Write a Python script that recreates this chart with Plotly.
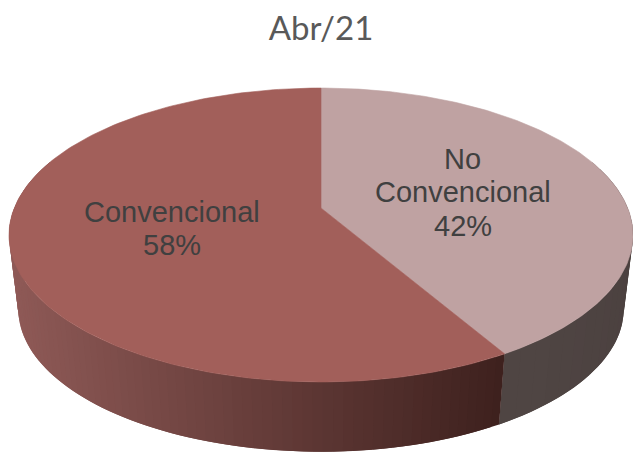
import numpy as np
import plotly.graph_objects as go

# data
title = "Abr/21"
categories = ["No<br>Convencional", "Convencional"]
values = [41.6, 58.4]  # read from the slice boundary, labels show 42 / 58

# disc geometry in page pixels
CX, CY = 321, 208
A, B, PERSP = 306.7, 142, 0.1837
DEPTH, BOTTOM_SCALE = 75, 0.97

TOP_COLORS = ["#BFA2A2", "#A25F5A"]
SIDE_LEFT = np.array([143, 90, 87])
SIDE_RIGHT = np.array([62, 33, 30])
SIDE_GREY_A = np.array([80, 70, 68])
SIDE_GREY_B = np.array([72, 61, 60])
TEXT_COLOR = "#404040"


def project(theta, r=1.0, bottom=False):
    # theta in degrees, clockwise from the far point of the disc
    t = np.radians(theta)
    u, v = r * np.sin(t), -r * np.cos(t)
    w = 1 - PERSP * v
    s, dy = (BOTTOM_SCALE, DEPTH) if bottom else (1.0, 0)
    return CX + s * A * u / w, CY + dy + s * B * v / w


def side_color(theta):
    x = project(theta)[0]
    if theta < boundary:
        k = np.clip((theta - 70) / (boundary - 70), 0, 1)
        c = SIDE_GREY_B + (SIDE_GREY_A - SIDE_GREY_B) * k
    else:
        k = np.clip((x - 10) / (505 - 10), 0, 1)
        c = SIDE_LEFT + (SIDE_RIGHT - SIDE_LEFT) * k
    return "rgb(%d,%d,%d)" % tuple(c)


total = sum(values)
sweeps = [v / total * 360 for v in values]
boundary = sweeps[0]

fig = go.Figure()

# outer wall, drawn as thin strips so it can carry the gradient
# each strip runs on under the next one, that hides the seams
grey_edges = np.linspace(70, boundary, 25)
red_edges = np.linspace(boundary, 290, 90)
for edges in (grey_edges, red_edges):
    step = edges[1] - edges[0]
    for t0, t1 in zip(edges[:-1], edges[1:]):
        end = t1 + step if t1 < edges[-1] else t1
        ts = np.linspace(t0, end, 5)
        xt, yt = project(ts)
        xb, yb = project(ts[::-1], bottom=True)
        fig.add_trace(go.Scatter(
            x=np.concatenate([xt, xb]),
            y=np.concatenate([yt, yb]),
            mode="lines",
            fill="toself",
            fillcolor=side_color((t0 + t1) / 2),
            line=dict(width=0),
            hoverinfo="skip",
        ))

# top face
start = 0
for cat, sweep, col, val in zip(categories, sweeps, TOP_COLORS, values):
    ts = np.linspace(start, start + sweep, 180)
    xe, ye = project(ts)
    fig.add_trace(go.Scatter(
        x=np.concatenate([[CX], xe, [CX]]),
        y=np.concatenate([[CY], ye, [CY]]),
        mode="lines",
        fill="toself",
        fillcolor=col,
        line=dict(color=col, width=0.6),
        hoverinfo="skip",
        name=cat.replace("<br>", " "),
    ))
    # label lines, one annotation each because the spacing is tighter than the default
    lx, ly = project(start + sweep / 2, r=0.49)
    lines = cat.split("<br>") + [f"{val:.0f}%"]
    for i, line in enumerate(lines):
        fig.add_annotation(
            x=float(lx),
            y=float(ly + 2 + (i - (len(lines) - 1) / 2) * 33.5),
            text=line,
            showarrow=False,
            font=dict(family="Liberation Sans, Arial", size=29, color=TEXT_COLOR),
            xanchor="center",
            yanchor="middle",
        )
    start += sweep

fig.update_layout(
    width=633,
    height=452,
    margin=dict(l=0, r=0, t=0, b=0),
    paper_bgcolor="white",
    plot_bgcolor="white",
    showlegend=False,
    title=dict(
        text=title,
        x=321 / 633,
        xanchor="center",
        y=1 - 28 / 452,
        yanchor="middle",
        font=dict(family="Lato", size=33, color="#595959"),
    ),
    xaxis=dict(range=[0, 633], visible=False, fixedrange=True),
    yaxis=dict(range=[452, 0], visible=False, fixedrange=True),
)

fig.write_html("out.html", config=dict(displayModeBar=False),
               post_script="document.body.style.margin='0';")
